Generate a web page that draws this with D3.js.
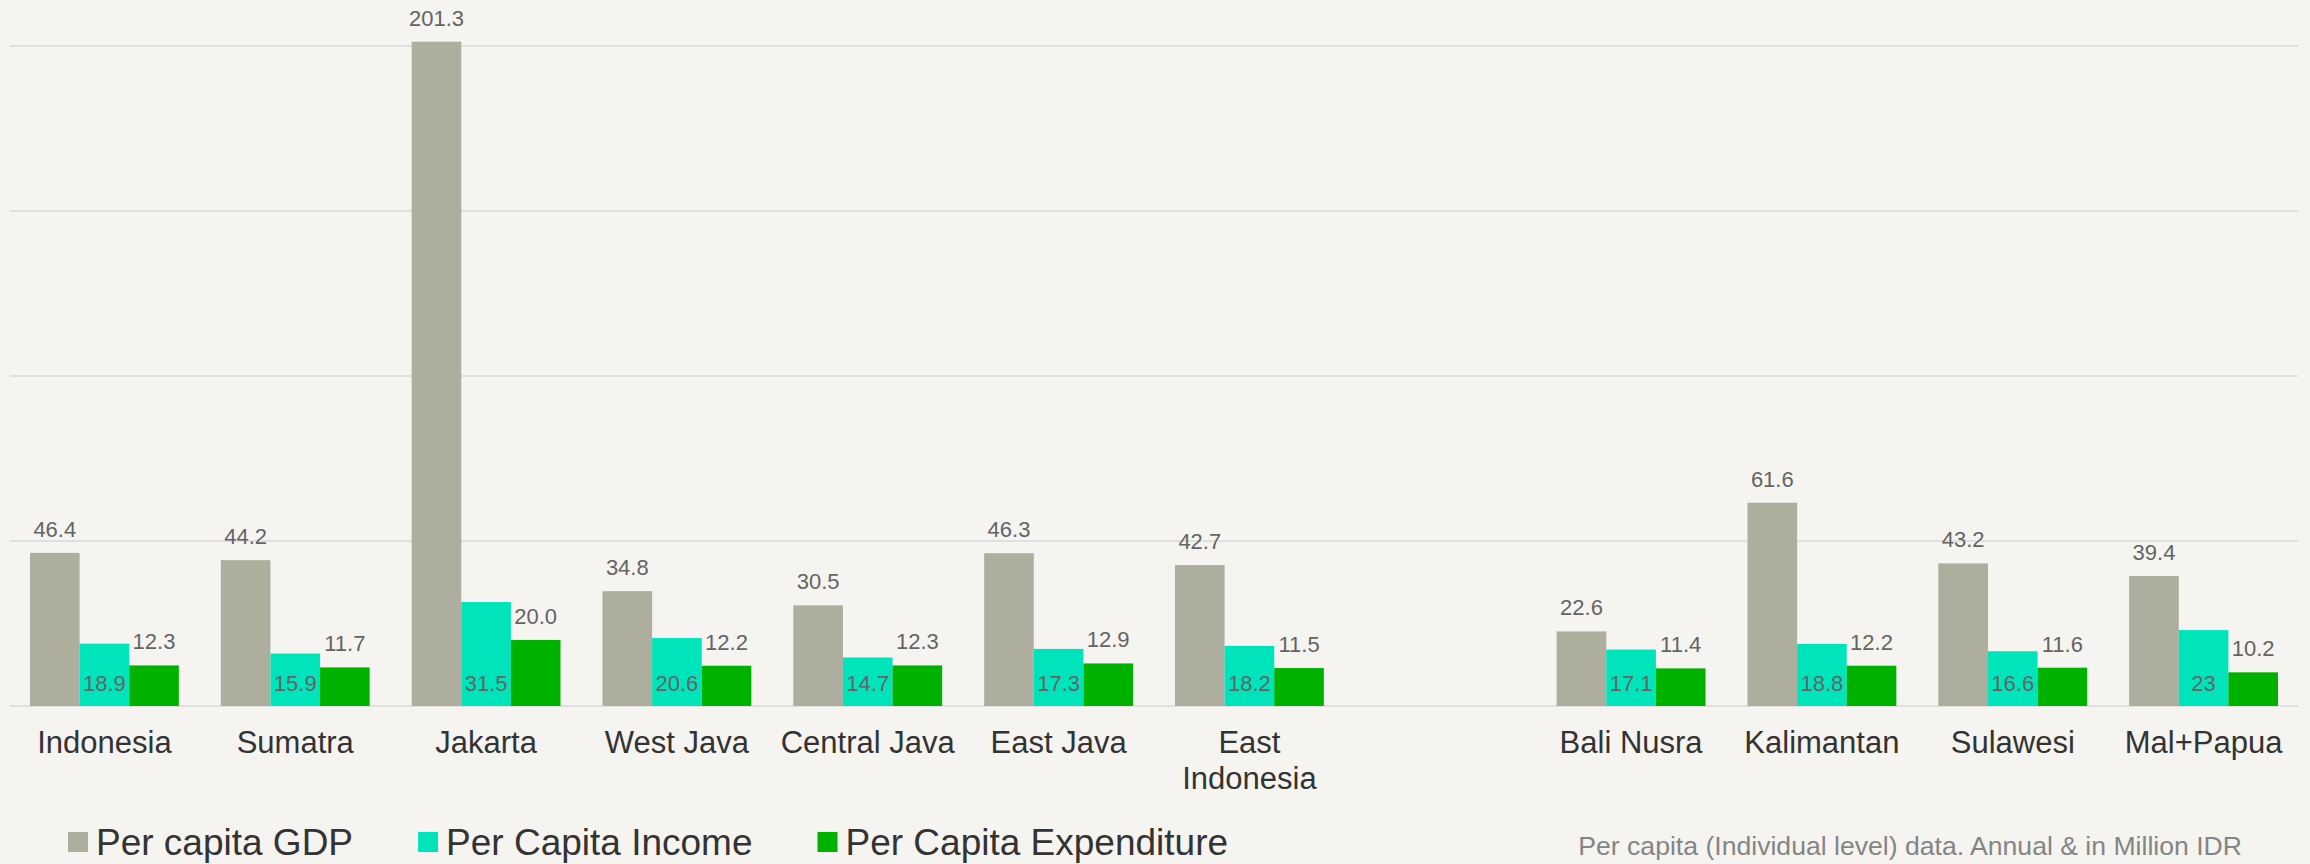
<!DOCTYPE html>
<html lang="en">
<head>
  <meta charset="UTF-8">
  <title>Per capita GDP, Income and Expenditure</title>
  <style type="text/css">
    body{
      margin: 0;
      background: #f5f4f0;
      font-family: "Liberation Sans", Arial, sans-serif;
    }
    .grid line{
      stroke: #e0dfe0;
      stroke-width: 2px;
    }
    .value{
      font-size: 22px;
      fill: #646464;
      text-anchor: middle;
    }
    .cat{
      font-size: 31px;
      fill: #333333;
      text-anchor: middle;
    }
    .legend text{
      font-size: 37px;
      fill: #333333;
    }
    .note{
      font-size: 26.6px;
      fill: #858585;
      text-anchor: end;
    }
  </style>
  <script type="text/javascript" src="https://cdnjs.cloudflare.com/ajax/libs/d3/7.8.5/d3.min.js"></script>
</head>
<body>
<script type="text/javascript">
  // data (Million IDR, annual); "" is the gap slot
  var categories = ['Indonesia', 'Sumatra', 'Jakarta', 'West Java', 'Central Java', 'East Java',
                    'East Indonesia', '', 'Bali Nusra', 'Kalimantan', 'Sulawesi', 'Mal+Papua'];
  var gdp         = [46.4, 44.2, 201.3, 34.8, 30.5, 46.3, 42.7, null, 22.6, 61.6, 43.2, 39.4];
  var income      = [18.9, 15.9, 31.5, 20.6, 14.7, 17.3, 18.2, null, 17.1, 18.8, 16.6, 23];
  var expenditure = [12.3, 11.7, 20.0, 12.2, 12.3, 12.9, 11.5, null, 11.4, 12.2, 11.6, 10.2];
  var seriesNames = ['Per capita GDP', 'Per Capita Income', 'Per Capita Expenditure'];
  var yTicks = [0, 50, 100, 150, 200];
  var note = 'Per capita (Individual level) data. Annual & in Million IDR';

  var width = 2310, height = 864;
  var colors = ['#adae9d', '#00e4bc', '#00b200'];

  var svg = d3.select('body')
    .append('svg')
    .attr('width', width)
    .attr('height', height);

  var x0 = d3.scaleBand()
    .domain(d3.range(categories.length))
    .range([9, 2299])
    .paddingInner(0.22)
    .paddingOuter(0.11);

  var x1 = d3.scaleBand()
    .domain([0, 1, 2])
    .range([0, x0.bandwidth()]);

  var yScale = d3.scaleLinear()
    .domain([0, 200])
    .range([706, 46]);

  var color = d3.scaleOrdinal().domain([0, 1, 2]).range(colors);

  // gridlines
  svg.append('g')
    .attr('class', 'grid')
    .selectAll('line')
    .data(yTicks)
    .enter().append('line')
    .attr('x1', 10)
    .attr('x2', 2298)
    .attr('y1', function(d){ return yScale(d); })
    .attr('y2', function(d){ return yScale(d); });

  var rows = categories.map(function(c, i){
    return {i: i, name: c, values: [gdp[i], income[i], expenditure[i]]};
  }).filter(function(d){ return d.name !== ''; });

  var group = svg.selectAll('.group')
    .data(rows)
    .enter().append('g')
    .attr('class', 'group')
    .attr('transform', function(d){ return 'translate(' + x0(d.i) + ',0)'; });

  var bars = group.selectAll('.bar')
    .data(function(d){ return d.values.map(function(v, k){ return {k: k, v: v}; }); })
    .enter();

  bars.append('rect')
    .attr('class', 'bar')
    .attr('x', function(d){ return x1(d.k); })
    .attr('width', x1.bandwidth())
    .attr('y', function(d){ return yScale(d.v); })
    .attr('height', function(d){ return yScale(0) - yScale(d.v); })
    .style('fill', function(d){ return color(d.k); });

  // labels: GDP and expenditure above the bar, income inside at the base
  bars.append('text')
    .attr('class', 'value')
    .attr('x', function(d){ return x1(d.k) + x1.bandwidth() / 2; })
    .attr('y', function(d){
      if (d.k === 1) return yScale(0) - 15;
      return yScale(d.v) - 16;
    })
    .text(function(d){ return d.k === 1 ? String(d.v) : d.v.toFixed(1); });

  // category labels, wrapped when wider than the slot
  var cat = svg.selectAll('.cat')
    .data(rows)
    .enter().append('text')
    .attr('class', 'cat')
    .attr('x', function(d){ return x0(d.i) + x0.bandwidth() / 2; })
    .attr('y', 753);

  cat.each(function(d){
    var t = d3.select(this);
    t.text(d.name);
    if (this.getComputedTextLength() > x0.step()) {
      t.text(null);
      d.name.split(' ').forEach(function(w, j){
        t.append('tspan')
          .attr('x', x0(d.i) + x0.bandwidth() / 2)
          .attr('dy', j === 0 ? 0 : 36)
          .text(w);
      });
    }
  });

  // legend
  var legend = svg.append('g').attr('class', 'legend');
  var lx = 68;
  seriesNames.forEach(function(name, k){
    var g = legend.append('g').attr('transform', 'translate(' + lx + ',0)');
    g.append('rect')
      .attr('x', 0)
      .attr('y', 832)
      .attr('width', 20)
      .attr('height', 20)
      .style('fill', color(k));
    var t = g.append('text')
      .attr('x', 28)
      .attr('y', 855)
      .text(name);
    lx += 28 + t.node().getComputedTextLength() + 65;
  });

  svg.append('text')
    .attr('class', 'note')
    .attr('x', 2242)
    .attr('y', 855)
    .text(note);
</script>
</body>
</html>
